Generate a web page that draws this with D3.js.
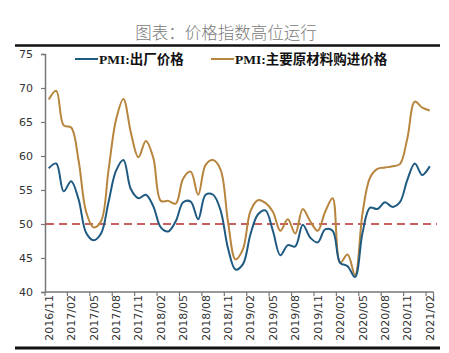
<!DOCTYPE html>
<html>
<head>
<meta charset="utf-8">
<script src="https://cdn.jsdelivr.net/npm/d3@7/dist/d3.min.js"></script>
<style>
  body { margin: 0; background: #fff; }
  svg { display: block; }
</style>
</head>
<body>
<div class="canva"></div>
<script>
const months = [
  "2016/11","2016/12",
  "2017/01","2017/02","2017/03","2017/04","2017/05","2017/06","2017/07","2017/08","2017/09","2017/10","2017/11","2017/12",
  "2018/01","2018/02","2018/03","2018/04","2018/05","2018/06","2018/07","2018/08","2018/09","2018/10","2018/11","2018/12",
  "2019/01","2019/02","2019/03","2019/04","2019/05","2019/06","2019/07","2019/08","2019/09","2019/10","2019/11","2019/12",
  "2020/01","2020/02","2020/03","2020/04","2020/05","2020/06","2020/07","2020/08","2020/09","2020/10","2020/11","2020/12",
  "2021/01","2021/02"
];
// PMI:出厂价格
const outputPrice = [
  58.2,58.9,
  54.8,56.3,53.6,48.7,47.6,48.6,53.2,57.8,59.4,55.1,53.8,54.3,
  52.6,49.5,48.9,50.4,53.2,53.3,50.7,54.3,54.3,52.0,46.4,43.3,
  44.1,48.5,51.4,52.0,49.0,45.4,46.9,46.7,49.9,48.0,47.3,49.2,
  49.0,44.3,43.8,42.2,48.7,52.4,52.2,53.2,52.5,53.2,56.5,58.9,
  57.2,58.5
];
// PMI:主要原材料购进价格
const inputPrice = [
  68.3,69.6,
  64.5,64.2,59.3,51.8,49.5,50.4,57.9,65.3,68.4,63.4,59.8,62.2,
  59.7,53.4,53.4,53.0,56.7,57.7,54.3,58.7,59.4,58.0,50.3,44.8,
  46.3,51.9,53.5,53.1,51.8,49.0,50.7,48.6,52.2,50.4,49.0,51.8,
  53.8,44.3,45.5,42.5,51.6,56.8,58.1,58.3,58.5,58.8,62.6,68.0,
  67.1,66.7
];
const yTicks = [40, 45, 50, 55, 60, 65, 70, 75];
const refLine = 50;
const seriesNames = ["PMI:出厂价格", "PMI:主要原材料购进价格"];
const seriesColors = ["#1f5a82", "#b8853e"];

const W = 449, H = 353;
const svg = d3.select(".canva").append("svg")
  .attr("width", W).attr("height", H);

const x = d3.scaleBand().domain(months).range([45, 433.5]);
const y = d3.scaleLinear().domain([40, 75]).range([292, 54]);

// title
svg.append("text")
  .attr("x", 226).attr("y", 39)
  .attr("text-anchor", "middle")
  .attr("font-family", "'Noto Sans CJK SC', sans-serif")
  .attr("font-weight", 300)
  .attr("font-size", 16.5)
  .attr("fill", "#7a7a7a")
  .text("图表：价格指数高位运行");

// frame rules
svg.append("line").attr("x1", 15).attr("x2", 440).attr("y1", 45.5).attr("y2", 45.5)
  .attr("stroke", "#111").attr("stroke-width", 2.5);
svg.append("line").attr("x1", 15).attr("x2", 440).attr("y1", 348).attr("y2", 348)
  .attr("stroke", "#111").attr("stroke-width", 3);

// y axis
const yAxis = svg.append("g")
  .attr("transform", "translate(45,0)")
  .call(d3.axisLeft(y).tickValues(yTicks).tickSize(4).tickPadding(8));
yAxis.select(".domain").attr("stroke", "#777").attr("stroke-width", 1.5);
yAxis.selectAll(".tick line").attr("stroke", "#777").attr("stroke-width", 1.2);
yAxis.selectAll("text")
  .attr("font-family", "'DejaVu Sans', sans-serif")
  .attr("font-size", 11).attr("fill", "#333");

// x axis: ticks at band edges every 3 months, labels at band centres
const shown = months.filter((m, i) => i % 3 === 0);
const xAxis = svg.append("g").attr("transform", "translate(0,292)");
xAxis.append("line")
  .attr("x1", x.range()[0]).attr("x2", x.range()[1])
  .attr("stroke", "#777").attr("stroke-width", 1.5);
xAxis.selectAll(".tk").data(shown.concat(["end"])).enter().append("line")
  .attr("x1", d => d === "end" ? x.range()[1] : x(d))
  .attr("x2", d => d === "end" ? x.range()[1] : x(d))
  .attr("y1", 0).attr("y2", 4)
  .attr("stroke", "#777").attr("stroke-width", 1.2);
xAxis.selectAll(".lb").data(shown).enter().append("text")
  .attr("transform", d => `translate(${x(d) + x.bandwidth() / 2 + 4},${3}) rotate(-90)`)
  .attr("text-anchor", "end")
  .attr("font-family", "'DejaVu Sans', sans-serif")
  .attr("font-size", 11).attr("fill", "#333")
  .text(d => d);

// reference line at 50
svg.append("line")
  .attr("x1", 46).attr("x2", 437)
  .attr("y1", y(refLine)).attr("y2", y(refLine))
  .attr("stroke", "#b22e2e").attr("stroke-width", 1.6)
  .attr("stroke-dasharray", "8,5");

// series
const line = d3.line()
  .x((d, i) => x(months[i]) + x.bandwidth() / 2)
  .y(d => y(d))
  .curve(d3.curveCatmullRom.alpha(0.5));

[inputPrice, outputPrice].forEach((s, k) => {
  svg.append("path")
    .datum(s)
    .attr("fill", "none")
    .attr("stroke", k === 0 ? seriesColors[1] : seriesColors[0])
    .attr("stroke-width", 2)
    .attr("d", line);
});

// legend
const legend = [
  { name: seriesNames[0], color: seriesColors[0], x: 75 },
  { name: seriesNames[1], color: seriesColors[1], x: 211 }
];
legend.forEach(l => {
  svg.append("line")
    .attr("x1", l.x).attr("x2", l.x + 23)
    .attr("y1", 59).attr("y2", 59)
    .attr("stroke", l.color).attr("stroke-width", 2);
  svg.append("text")
    .attr("x", l.x + 24).attr("y", 64)
    .attr("font-family", "'Liberation Serif', 'Noto Sans CJK SC', serif")
    .attr("font-weight", "bold")
    .attr("font-size", 13.5)
    .attr("fill", "#111")
    .text(l.name);
});
</script>
</body>
</html>
